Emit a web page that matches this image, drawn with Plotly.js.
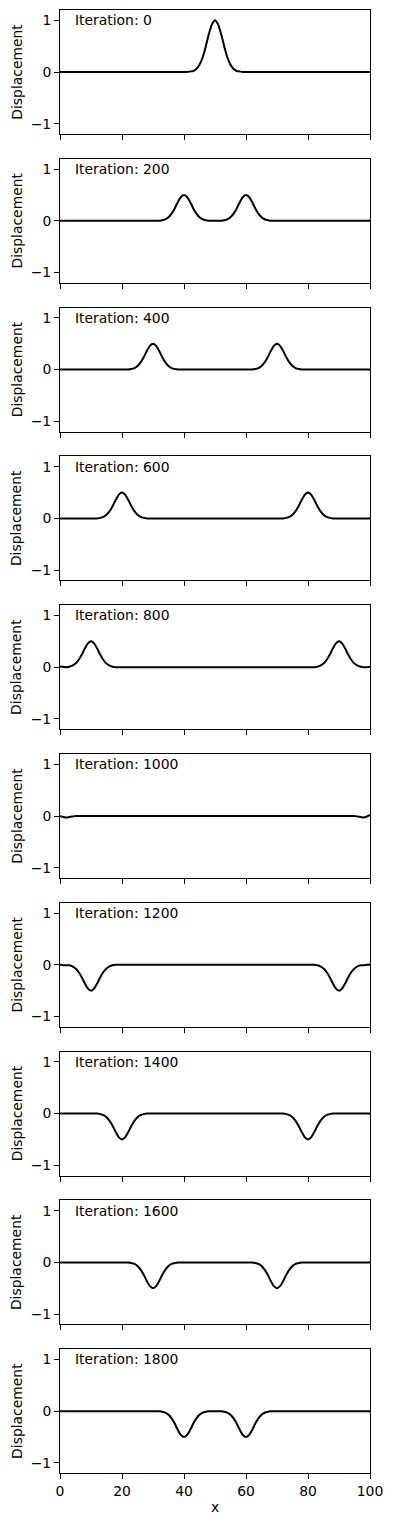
<!DOCTYPE html>
<html>
<head>
<meta charset="utf-8">
<script src="https://cdn.plot.ly/plotly-3.0.1.min.js"></script>
<style>html,body{margin:0;padding:0;background:#fff;}#chart{width:393px;height:1526px;}</style>
</head>
<body>
<div id="chart"></div>
<script>
// Iteration labels
const iterations = [0, 200, 400, 600, 800, 1000, 1200, 1400, 1600, 1800];
const xTickVals = [0, 20, 40, 60, 80, 100];
const yTickVals = [-1, 0, 1];

// Displacement read at x = 0,1,2,...,100 (rows of 10)
const it0 = [
0,0,0,0,0,0,0,0,0,0,
0,0,0,0,0,0,0,0,0,0,
0,0,0,0,0,0,0,0,0,0,
0,0,0,0,0,0,0,0,0,0,
0,0,0.01,0.02,0.06,0.14,0.28,0.49,0.73,0.92,
1,0.92,0.73,0.49,0.28,0.14,0.06,0.02,0.01,0,
0,0,0,0,0,0,0,0,0,0,
0,0,0,0,0,0,0,0,0,0,
0,0,0,0,0,0,0,0,0,0,
0,0,0,0,0,0,0,0,0,0,
0];
const it200 = [
0,0,0,0,0,0,0,0,0,0,
0,0,0,0,0,0,0,0,0,0,
0,0,0,0,0,0,0,0,0,0,
0,0,0,0.01,0.03,0.07,0.14,0.24,0.36,0.46,
0.5,0.46,0.36,0.24,0.14,0.07,0.03,0.01,0,0,
0,0,0,0.01,0.03,0.07,0.14,0.24,0.36,0.46,
0.5,0.46,0.36,0.24,0.14,0.07,0.03,0.01,0,0,
0,0,0,0,0,0,0,0,0,0,
0,0,0,0,0,0,0,0,0,0,
0,0,0,0,0,0,0,0,0,0,
0];
const it400 = [
0,0,0,0,0,0,0,0,0,0,
0,0,0,0,0,0,0,0,0,0,
0,0,0,0.01,0.03,0.07,0.14,0.24,0.36,0.46,
0.5,0.46,0.36,0.24,0.14,0.07,0.03,0.01,0,0,
0,0,0,0,0,0,0,0,0,0,
0,0,0,0,0,0,0,0,0,0,
0,0,0,0.01,0.03,0.07,0.14,0.24,0.36,0.46,
0.5,0.46,0.36,0.24,0.14,0.07,0.03,0.01,0,0,
0,0,0,0,0,0,0,0,0,0,
0,0,0,0,0,0,0,0,0,0,
0];
const it600 = [
0,0,0,0,0,0,0,0,0,0,
0,0,0,0.01,0.03,0.07,0.14,0.24,0.36,0.46,
0.5,0.46,0.36,0.24,0.14,0.07,0.03,0.01,0,0,
0,0,0,0,0,0,0,0,0,0,
0,0,0,0,0,0,0,0,0,0,
0,0,0,0,0,0,0,0,0,0,
0,0,0,0,0,0,0,0,0,0,
0,0,0,0.01,0.03,0.07,0.14,0.24,0.36,0.46,
0.5,0.46,0.36,0.24,0.14,0.07,0.03,0.01,0,0,
0,0,0,0,0,0,0,0,0,0,
0];
const it800 = [
0.01,0.01,0,0.01,0.03,0.07,0.14,0.24,0.36,0.46,
0.5,0.46,0.36,0.24,0.14,0.07,0.03,0.01,0,0,
0,0,0,0,0,0,0,0,0,0,
0,0,0,0,0,0,0,0,0,0,
0,0,0,0,0,0,0,0,0,0,
0,0,0,0,0,0,0,0,0,0,
0,0,0,0,0,0,0,0,0,0,
0,0,0,0,0,0,0,0,0,0,
0,0,0,0.01,0.03,0.07,0.14,0.24,0.36,0.46,
0.5,0.46,0.36,0.24,0.14,0.07,0.03,0.01,0,0,
0.01];
const it1000 = [
0,-0.02,-0.03,-0.02,-0.01,0,0,0,0,0,
0,0,0,0,0,0,0,0,0,0,
0,0,0,0,0,0,0,0,0,0,
0,0,0,0,0,0,0,0,0,0,
0,0,0,0,0,0,0,0,0,0,
0,0,0,0,0,0,0,0,0,0,
0,0,0,0,0,0,0,0,0,0,
0,0,0,0,0,0,0,0,0,0,
0,0,0,0,0,0,0,0,0,0,
0,0,0,0,0,0,-0.01,-0.02,-0.03,-0.01,
0.02];
const it1200 = [
0,-0.01,-0.01,-0.01,-0.03,-0.07,-0.14,-0.24,-0.36,-0.46,
-0.5,-0.46,-0.36,-0.24,-0.14,-0.07,-0.03,-0.01,0,0,
0,0,0,0,0,0,0,0,0,0,
0,0,0,0,0,0,0,0,0,0,
0,0,0,0,0,0,0,0,0,0,
0,0,0,0,0,0,0,0,0,0,
0,0,0,0,0,0,0,0,0,0,
0,0,0,0,0,0,0,0,0,0,
0,0,0,-0.01,-0.03,-0.07,-0.14,-0.24,-0.36,-0.46,
-0.5,-0.46,-0.36,-0.24,-0.14,-0.07,-0.03,-0.01,-0.01,0,
0];
const it1400 = [
0,0,0,0,0,0,0,0,0,0,
0,0,0,-0.01,-0.03,-0.07,-0.14,-0.24,-0.36,-0.46,
-0.5,-0.46,-0.36,-0.24,-0.14,-0.07,-0.03,-0.01,0,0,
0,0,0,0,0,0,0,0,0,0,
0,0,0,0,0,0,0,0,0,0,
0,0,0,0,0,0,0,0,0,0,
0,0,0,0,0,0,0,0,0,0,
0,0,0,-0.01,-0.03,-0.07,-0.14,-0.24,-0.36,-0.46,
-0.5,-0.46,-0.36,-0.24,-0.14,-0.07,-0.03,-0.01,0,0,
0,0,0,0,0,0,0,0,0,0,
0];
const it1600 = [
0,0,0,0,0,0,0,0,0,0,
0,0,0,0,0,0,0,0,0,0,
0,0,0,-0.01,-0.03,-0.07,-0.14,-0.24,-0.36,-0.46,
-0.5,-0.46,-0.36,-0.24,-0.14,-0.07,-0.03,-0.01,0,0,
0,0,0,0,0,0,0,0,0,0,
0,0,0,0,0,0,0,0,0,0,
0,0,0,-0.01,-0.03,-0.07,-0.14,-0.24,-0.36,-0.46,
-0.5,-0.46,-0.36,-0.24,-0.14,-0.07,-0.03,-0.01,0,0,
0,0,0,0,0,0,0,0,0,0,
0,0,0,0,0,0,0,0,0,0,
0];
const it1800 = [
0,0,0,0,0,0,0,0,0,0,
0,0,0,0,0,0,0,0,0,0,
0,0,0,0,0,0,0,0,0,0,
0,0,0,-0.01,-0.03,-0.07,-0.14,-0.24,-0.36,-0.46,
-0.5,-0.46,-0.36,-0.24,-0.14,-0.07,-0.03,-0.01,0,0,
0,0,0,-0.01,-0.03,-0.07,-0.14,-0.24,-0.36,-0.46,
-0.5,-0.46,-0.36,-0.24,-0.14,-0.07,-0.03,-0.01,0,0,
0,0,0,0,0,0,0,0,0,0,
0,0,0,0,0,0,0,0,0,0,
0,0,0,0,0,0,0,0,0,0,
0];

const series = [it0, it200, it400, it600, it800, it1000, it1200, it1400, it1600, it1800];
const xGrid = it0.map((_, i) => i);

const W = 393, H = 1526;
const left = 60, right = 370, top0 = 10, step = 148.8, ph = 124;
const FONT = 'DejaVu Sans';
const FS = 13.9;

const traces = [];
const layout = {
  width: W, height: H,
  margin: {l: 0, r: 0, t: 0, b: 0},
  paper_bgcolor: '#fff', plot_bgcolor: '#fff',
  showlegend: false,
  font: {family: FONT, size: FS, color: '#000'},
  annotations: []
};

series.forEach((ys, i) => {
  const n = i + 1;
  const sfx = n === 1 ? '' : String(n);
  traces.push({
    x: xGrid, y: ys, type: 'scatter', mode: 'lines',
    xaxis: 'x' + sfx, yaxis: 'y' + sfx,
    line: {color: '#000', width: 2, shape: 'spline', smoothing: 0.6},
    hoverinfo: 'skip'
  });
  const top = top0 + step * i;
  const bottom = top + ph;
  const common = {
    showline: true, mirror: true, linecolor: '#000', linewidth: 1,
    ticks: 'outside', ticklen: 5, tickwidth: 1, tickcolor: '#000',
    showgrid: false, zeroline: false, fixedrange: true,
    tickfont: {family: FONT, size: FS, color: '#000'}
  };
  layout['xaxis' + sfx] = Object.assign({}, common, {
    domain: [left / W, right / W], anchor: 'y' + sfx,
    range: [0, 100], tickmode: 'array', tickvals: xTickVals,
    ticktext: xTickVals.map(String),
    showticklabels: i === series.length - 1
  });
  layout['yaxis' + sfx] = Object.assign({}, common, {
    domain: [1 - bottom / H, 1 - top / H], anchor: 'x' + sfx,
    range: [-1.2, 1.2], tickmode: 'array', tickvals: yTickVals,
    ticktext: yTickVals.map(v => v < 0 ? '\u2212' + Math.abs(v) : String(v))
  });
  layout.annotations.push({
    xref: 'paper', yref: 'paper',
    x: (left + 0.05 * (right - left) - 3) / W, y: 1 - (top + 0.05 * ph - 6) / H,
    xanchor: 'left', yanchor: 'top', showarrow: false,
    text: 'Iteration: ' + iterations[i],
    font: {family: FONT, size: FS, color: '#000'}
  });
  layout.annotations.push({
    xref: 'paper', yref: 'paper',
    x: 16.7 / W, y: 1 - (top + ph / 2) / H,
    xanchor: 'center', yanchor: 'middle', showarrow: false, textangle: -90,
    text: 'Displacement',
    font: {family: FONT, size: FS, color: '#000'}
  });
});

layout.annotations.push({
  xref: 'paper', yref: 'paper',
  x: (left + right) / 2 / W, y: 1 - 1507 / H,
  xanchor: 'center', yanchor: 'middle', showarrow: false,
  text: 'x', font: {family: FONT, size: FS, color: '#000'}
});

Plotly.newPlot('chart', traces, layout, {staticPlot: true, displayModeBar: false});
</script>
</body>
</html>
